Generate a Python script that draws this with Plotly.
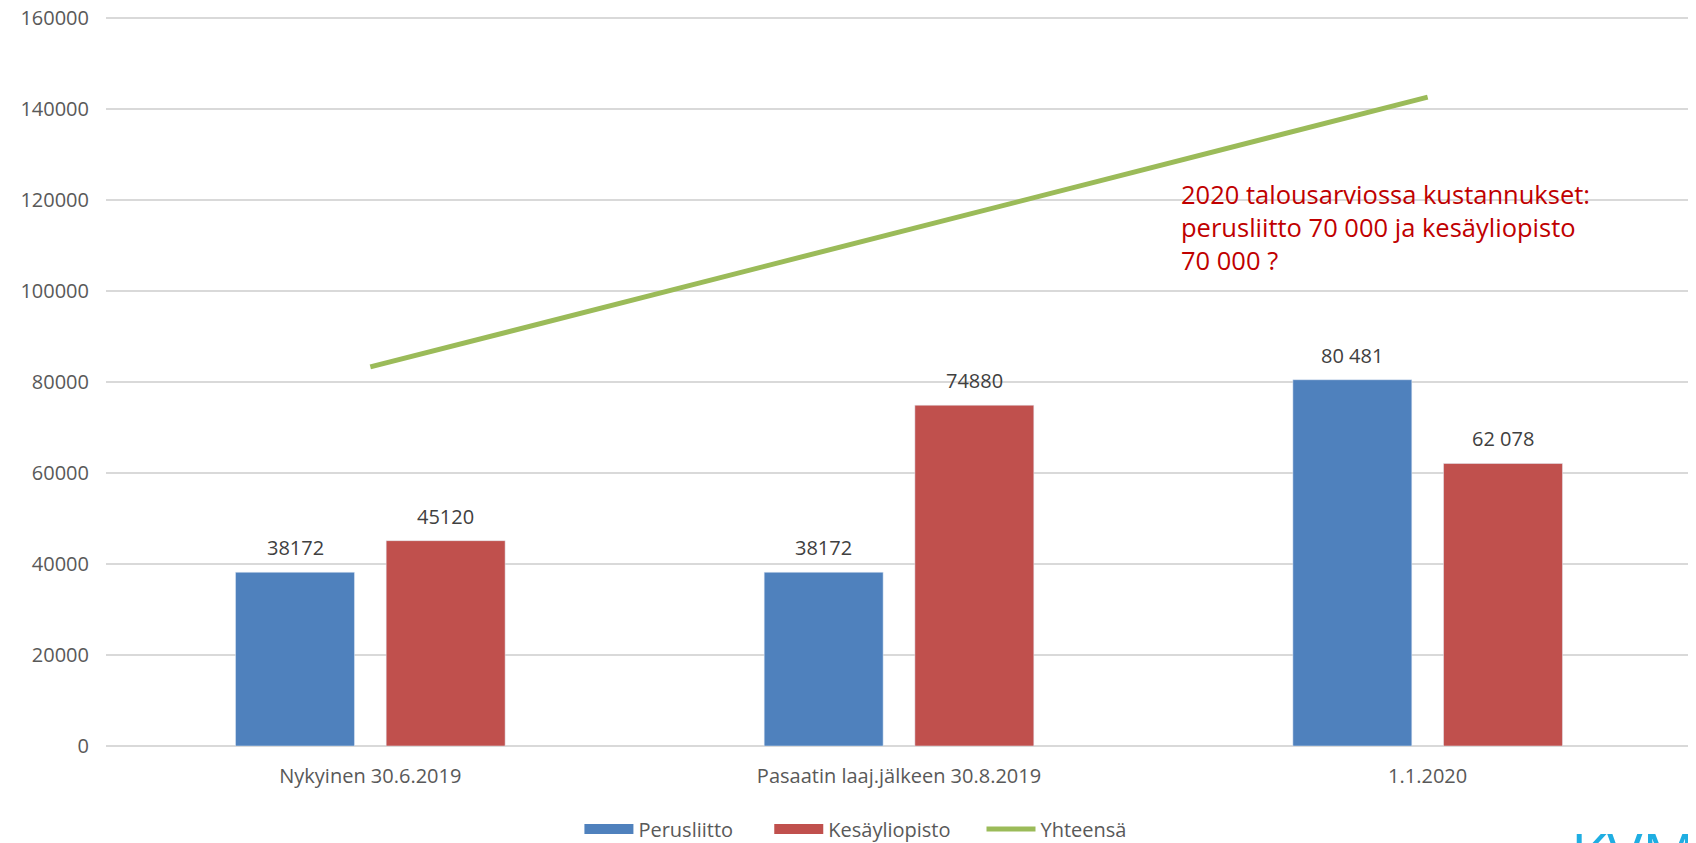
import plotly.graph_objects as go

categories = ["Nykyinen 30.6.2019", "Pasaatin laaj.jälkeen 30.8.2019", "1.1.2020"]
perusliitto = [38172, 38172, 80481]
kesayliopisto = [45120, 74880, 62078]
perus_labels = ["38172", "38172", "80 481"]
kesa_labels = ["45120", "74880", "62 078"]
yhteensa = [p + k for p, k in zip(perusliitto, kesayliopisto)]
y_ticks = [0, 20000, 40000, 60000, 80000, 100000, 120000, 140000, 160000]

BLUE = "#4F81BD"
RED = "#C0504D"
GREEN = "#9BBB59"
FONT = "Open Sans"

BAR_W = 0.225
BLUE_OFF = -0.255
RED_OFF = 0.030
NBSP = "\u00a0"  # spacing after legend entries

fig = go.Figure()
fig.add_trace(go.Bar(
    name="Perusliitto", x=categories, y=perusliitto, marker_color=BLUE,
    width=[BAR_W] * 3, offset=[BLUE_OFF] * 3, showlegend=False, legendgroup="p",
))
fig.add_trace(go.Bar(
    name="Kesäyliopisto", x=categories, y=kesayliopisto, marker_color=RED,
    width=[BAR_W] * 3, offset=[RED_OFF] * 3, showlegend=False, legendgroup="k",
))
fig.add_trace(go.Scatter(
    name="Yhteensä", x=categories, y=yhteensa, mode="lines",
    line=dict(color=GREEN, width=5), showlegend=False, legendgroup="y",
))
# legend entries (wide swatches like the original)
fig.add_trace(go.Scatter(name="Perusliitto" + NBSP * 6, x=[None], y=[None], mode="lines",
                         line=dict(color=BLUE, width=14), legendgroup="p"))
fig.add_trace(go.Scatter(name="Kesäyliopisto" + NBSP * 5, x=[None], y=[None], mode="lines",
                         line=dict(color=RED, width=14), legendgroup="k"))
fig.add_trace(go.Scatter(name="Yhteensä", x=[None], y=[None], mode="lines",
                         line=dict(color=GREEN, width=5), legendgroup="y"))

annotations = []
for i in range(len(categories)):
    annotations.append(dict(
        x=i + BLUE_OFF + BAR_W / 2, y=perusliitto[i], xref="x", yref="y",
        text=perus_labels[i], showarrow=False, yanchor="bottom", yshift=9,
        font=dict(family=FONT, size=20, color="#404040"),
    ))
    annotations.append(dict(
        x=i + RED_OFF + BAR_W / 2, y=kesayliopisto[i], xref="x", yref="y",
        text=kesa_labels[i], showarrow=False, yanchor="bottom", yshift=9,
        font=dict(family=FONT, size=20, color="#404040"),
    ))

annotations.append(dict(
    x=0.6765, y=0.7826, xref="paper", yref="paper", xanchor="left", yanchor="top",
    align="left", showarrow=False,
    text="2020 talousarviossa kustannukset:<br>perusliitto 70 000 ja kesäyliopisto<br>70 000 ?",
    font=dict(family=FONT, size=25.5, color="#C00000"),
))
annotations.append(dict(
    x=0.9222, y=-0.0885, xref="paper", yref="paper", xanchor="left", yanchor="top",
    showarrow=False, text="KVM",
    font=dict(family=FONT, size=59, color="#1FAEE2"),
))

fig.update_layout(
    width=1688, height=835,
    margin=dict(l=98, r=4, t=7.7, b=96.5, autoexpand=False),
    plot_bgcolor="white", paper_bgcolor="white",
    font=dict(family=FONT, size=20, color="#595959"),
    showlegend=True,
    legend=dict(orientation="h", x=0.2985, xanchor="left",
                yref="container", y=0.0168, yanchor="middle",
                itemwidth=49,
                font=dict(family=FONT, size=20, color="#595959")),
    annotations=annotations,
)
fig.update_xaxes(showgrid=False, showline=False, ticks="", automargin=False,
                 tickfont=dict(size=20, color="#595959"), ticklabelstandoff=16)
fig.update_yaxes(range=[0, 160400], tickvals=y_ticks, ticktext=[str(v) for v in y_ticks],
                 showgrid=True, gridcolor="#D9D9D9", gridwidth=1.5, automargin=False,
                 zeroline=True, zerolinecolor="#D9D9D9", zerolinewidth=1.5,
                 showline=False, ticks="", ticklabelstandoff=16, ticklabeloverflow="allow",
                 tickfont=dict(size=20, color="#595959"))

fig.write_html("out.html")
